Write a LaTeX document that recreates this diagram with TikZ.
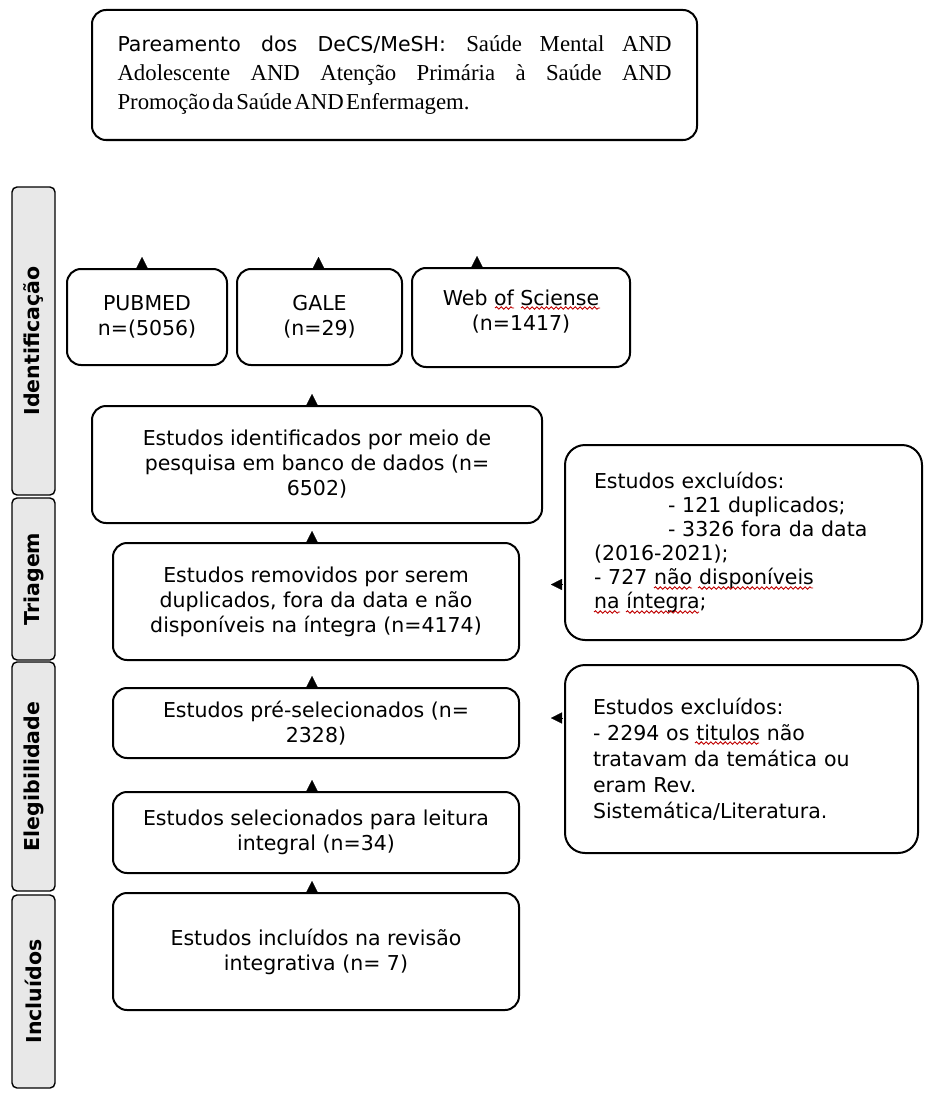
\documentclass[tikz,border=0pt]{standalone}
\usepackage{fontspec}
\setmainfont{DejaVu Sans}
\newfontfamily\serifpart{Liberation Serif}
\usetikzlibrary{arrows.meta,decorations.pathmorphing}

\begin{document}
\begin{tikzpicture}[
    x=0.5pt, y=-0.5pt,
    every node/.style={align=center, font=\fontsize{10.25pt}{12.5pt}\selectfont},
    box/.style={rectangle, draw, line width=1pt, rounded corners=7pt, inner sep=0pt},
    exclBox/.style={rectangle, draw, line width=1pt, rounded corners=10pt, align=left, inner ysep=0pt},
    sideBar/.style={rectangle, draw, line width=0.7pt, fill=gray!18, rounded corners=2.5pt, rotate=90, minimum height=21.5pt, inner sep=0pt, font=\fontsize{10.25pt}{12.5pt}\selectfont\bfseries},
    stub/.style={-{Triangle[length=5.5pt,width=5.5pt]}, line width=0.1pt},
    spellWave/.style={draw=red!75!black, line width=0.45pt, decorate, decoration={snake, amplitude=0.6pt, segment length=2.4pt}}
]
\useasboundingbox (0,0) rectangle (925,1097);

% Nodes
\node[box, minimum width=302.5pt, minimum height=65pt, align=justify, text width=277pt,
      font=\fontsize{10.25pt}{14.5pt}\selectfont] (query) at (394.5,75)
  {Pareamento dos DeCS/MeSH: {\serifpart\fontsize{11.4pt}{14.5pt}\selectfont Saúde Mental AND\linebreak
   Adolescente AND Atenção Primária à Saúde AND\linebreak
   {\spaceskip=1.2pt Promoção da Saúde AND Enfermagem.}}};

\node[sideBar, minimum width=154pt] (ident) at (33.5,341) {Identificação};
\node[sideBar, minimum width=81pt] (screen) at (33.5,579) {Triagem};
\node[sideBar, minimum width=114.5pt] (elig) at (33.5,776.5) {Elegibilidade};
\node[sideBar, minimum width=96.5pt] (incl) at (33.5,991.5) {Incluídos};

\node[box, minimum width=80pt, minimum height=48pt] (pubmed) at (147,317) {PUBMED\\n=(5056)};
\node[box, minimum width=82.5pt, minimum height=48pt] (gale) at (319.5,317) {GALE\\(n=29)};
\node[box, minimum width=109pt, minimum height=49.5pt, text depth=7pt] (wos) at (521,317.5)
  {Web of Sciense\\(n=1417)};

\node[box, minimum width=225pt, minimum height=58.5pt] (found) at (317,464.5)
  {Estudos identificados por meio de\\pesquisa em banco de dados (n=\\6502)};
\node[box, minimum width=203pt, minimum height=58.5pt] (removed) at (316,601.5)
  {Estudos removidos por serem\\duplicados, fora da data e não\\disponíveis na íntegra (n=4174)};
\node[box, minimum width=203pt, minimum height=35pt] (presel) at (316,723)
  {Estudos pré-selecionados (n=\\2328)};
\node[box, minimum width=203pt, minimum height=40.5pt] (selected) at (316,832.5)
  {Estudos selecionados para leitura\\integral (n=34)};
\node[box, minimum width=203pt, minimum height=58.5pt] (included) at (316,951.5)
  {Estudos incluídos na revisão\\integrativa (n= 7)};

\node[exclBox, minimum width=178.5pt, minimum height=97.5pt, text width=149.5pt, inner xsep=14.5pt,
      font=\fontsize{10.25pt}{12pt}\selectfont] (dropA) at (743.5,542.5)
  {Estudos excluídos:\\
   \hspace*{37pt}- 121 duplicados;\\
   \hspace*{37pt}- 3326 fora da data\\
   (2016-2021);\\
   - 727 não disponíveis\\
   na íntegra;};
\node[exclBox, minimum width=176.5pt, minimum height=94pt, text width=148.5pt, inner xsep=14pt,
      font=\fontsize{10.25pt}{13pt}\selectfont] (dropB) at (741.5,759)
  {Estudos excluídos:\\
   - 2294 os titulos não\\
   tratavam da temática ou\\
   eram Rev.\\
   Sistemática/Literatura.};

% spell-check marks
\draw[spellWave] (495,308) -- (514,308);
\draw[spellWave] (521,308) -- (600,308);
\draw[spellWave] (654,588) -- (692,588);
\draw[spellWave] (698,588) -- (813,588);
\draw[spellWave] (594,612) -- (620,612);
\draw[spellWave] (626,612) -- (699,612);
\draw[spellWave] (695,743) -- (759,743);

% Arrows
\draw[stub] ([xshift=-2.5pt]pubmed.north) -- ++(0,-11);
\draw[stub] ([xshift=-0.5pt]gale.north) -- ++(0,-11);
\draw[stub] ([xshift=-22pt]wos.north) -- ++(0,-11);
\draw[stub] ([xshift=-2.5pt]found.north) -- ++(0,-11);
\draw[stub] ([xshift=-2pt]removed.north) -- ++(0,-11);
\draw[stub] ([xshift=-2pt]presel.north) -- ++(0,-11);
\draw[stub] ([xshift=-2pt]selected.north) -- ++(0,-11);
\draw[stub] ([xshift=-2pt]included.north) -- ++(0,-11);
\draw[stub] ([xshift=-1pt,yshift=-21pt]dropA.west) -- ++(-11,0);
\draw[stub] ([xshift=-1pt,yshift=20.5pt]dropB.west) -- ++(-11,0);

\end{tikzpicture}
\end{document}
